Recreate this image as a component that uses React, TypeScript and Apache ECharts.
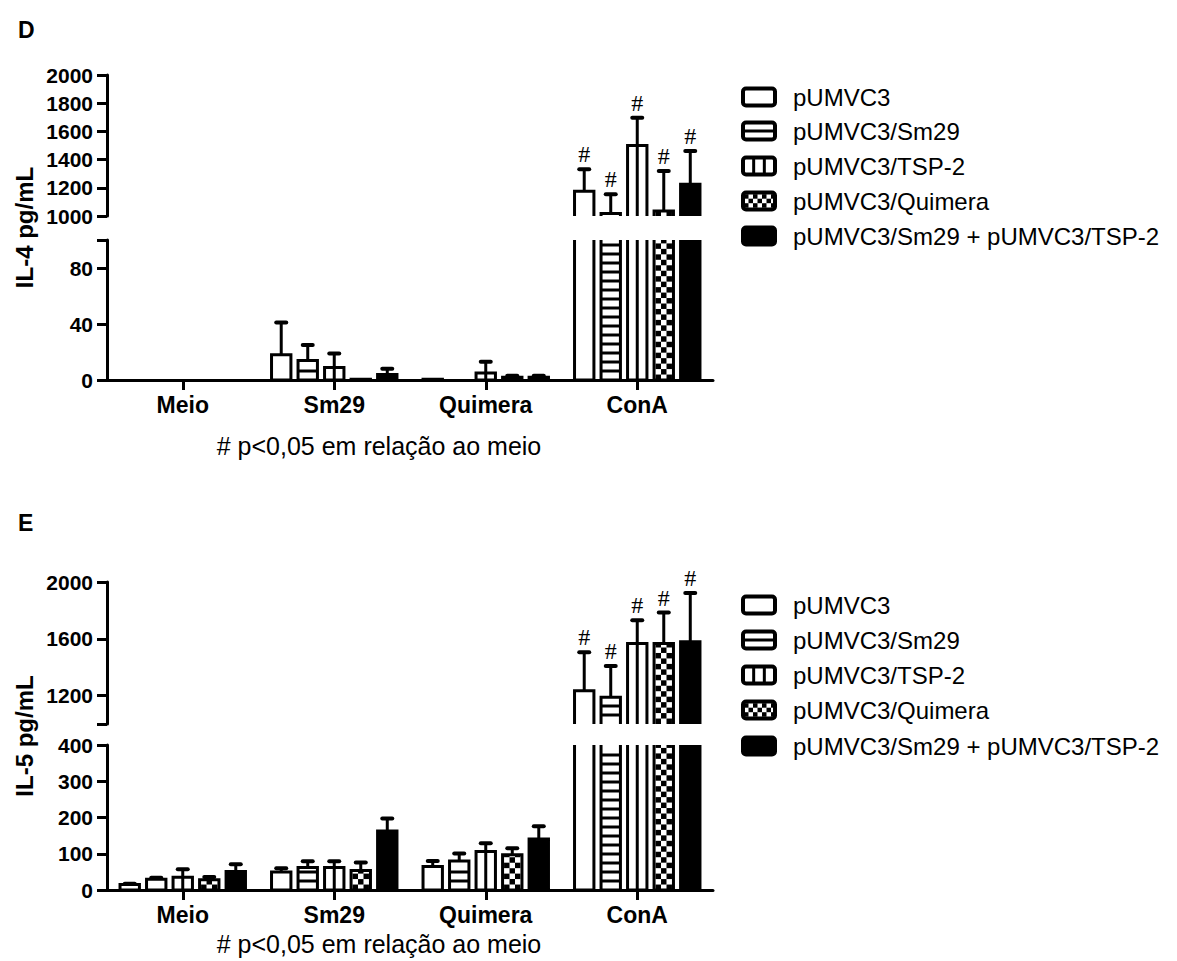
import React, { useEffect, useRef } from "react";
import * as echarts from "echarts";

const CATEGORIES = ["Meio", "Sm29", "Quimera", "ConA"];
const GROUPS = [
  "pUMVC3",
  "pUMVC3/Sm29",
  "pUMVC3/TSP-2",
  "pUMVC3/Quimera",
  "pUMVC3/Sm29 + pUMVC3/TSP-2",
];
const PATTERNS = ["open", "hstripe", "vstripe", "checker", "solid"];

// Panel D – IL-4 (pg/mL), per group, per category
const IL4_PUMVC3 = [0, 18, 0.5, 1175];
const IL4_SM29 = [0, 14, 0, 1018];
const IL4_TSP2 = [0, 9, 5, 1500];
const IL4_QUIMERA = [0, 0.5, 2, 1035];
const IL4_COMBO = [0, 4, 2, 1225];
const IL4_ERR_PUMVC3 = [0, 23, 0, 157];
const IL4_ERR_SM29 = [0, 11, 0, 136];
const IL4_ERR_TSP2 = [0, 10, 8, 196];
const IL4_ERR_QUIMERA = [0, 0, 1, 285];
const IL4_ERR_COMBO = [0, 4, 1, 236];
const IL4_SIG = [0, 0, 0, 1];

// Panel E – IL-5 (pg/mL)
const IL5_PUMVC3 = [15, 50, 65, 1235];
const IL5_SM29 = [30, 62, 80, 1188];
const IL5_TSP2 = [35, 62, 106, 1567];
const IL5_QUIMERA = [28, 54, 97, 1567];
const IL5_COMBO = [51, 163, 141, 1579];
const IL5_ERR_PUMVC3 = [2, 10, 15, 270];
const IL5_ERR_SM29 = [4, 17, 21, 220];
const IL5_ERR_TSP2 = [22, 17, 23, 164];
const IL5_ERR_QUIMERA = [8, 22, 18, 218];
const IL5_ERR_COMBO = [20, 34, 35, 344];
const IL5_SIG = [0, 0, 0, 1];

const IL4_UPPER_TICKS = [1000, 1200, 1400, 1600, 1800, 2000];
const IL4_LOWER_TICKS = [0, 40, 80, 100];
const IL4_LOWER_LABELS = [0, 40, 80];
const IL5_UPPER_TICKS = [1000, 1200, 1600, 2000];
const IL5_UPPER_LABELS = [1200, 1600, 2000];
const IL5_LOWER_TICKS = [0, 100, 200, 300, 400];

const FONT = "'Liberation Sans', Arial, sans-serif";
const LW = 3;

function barShapes(kind: string, x: number, y: number, w: number, h: number, openTop: boolean, openBottom: boolean) {
  const out: any[] = [];
  const bottom = y + h;
  out.push({
    type: "rect",
    shape: { x, y, width: w, height: h },
    style: { fill: kind === "solid" ? "#000" : "#fff" },
  });
  if (kind === "hstripe") {
    for (let yy = bottom - 9; yy > y + 3; yy -= 9) {
      out.push({ type: "line", shape: { x1: x, y1: yy, x2: x + w, y2: yy }, style: { stroke: "#000", lineWidth: LW } });
    }
  } else if (kind === "vstripe") {
    if (h > 0) out.push({ type: "line", shape: { x1: x + w / 2, y1: y, x2: x + w / 2, y2: bottom }, style: { stroke: "#000", lineWidth: LW } });
  } else if (kind === "checker") {
    const ix0 = x + 1.5;
    const ix1 = x + w - 1.5;
    const cell = (ix1 - ix0) / 3;
    const rows = Math.ceil(h / cell);
    for (let r = 0; r < rows; r++) {
      const yb = bottom - r * cell;
      const yt = Math.max(y, yb - cell);
      if (yb - yt <= 0) continue;
      for (let c = 0; c < 3; c++) {
        if ((r + c) % 2 !== 0) continue;
        const xl = ix0 + c * cell;
        out.push({ type: "rect", shape: { x: xl, y: yt, width: cell, height: yb - yt }, style: { fill: "#000" } });
      }
    }
  }
  const st = { stroke: "#000", lineWidth: LW, fill: "none", lineJoin: "miter" };
  let pts: number[][];
  if (openTop && openBottom) {
    out.push({ type: "line", shape: { x1: x, y1: y, x2: x, y2: bottom }, style: st });
    out.push({ type: "line", shape: { x1: x + w, y1: y, x2: x + w, y2: bottom }, style: st });
    return out;
  } else if (openBottom) {
    pts = [[x, bottom], [x, y], [x + w, y], [x + w, bottom]];
  } else if (openTop) {
    pts = [[x, y], [x, bottom], [x + w, bottom], [x + w, y]];
  } else {
    pts = [[x, bottom], [x, y], [x + w, y], [x + w, bottom], [x, bottom]];
  }
  out.push({ type: "polyline", shape: { points: pts }, style: st });
  return out;
}

function makeRenderItem(k: number, lo: number, hi: number) {
  return (params: any, api: any) => {
    const ci = api.value(0);
    const v = api.value(1);
    const e = api.value(2);
    const s = api.value(3);
    const band = api.size([1, 0])[0];
    const base = api.coord([ci, lo]);
    const cx = base[0] + (k - 2) * band * 0.175;
    const w = band * 0.128;
    const x = cx - w / 2;
    const yLo = base[1];
    const yHi = api.coord([ci, hi])[1];
    if (v <= 0 || v < lo || (lo > 0 && v <= lo)) return { type: "group", children: [] };
    const openTop = v > hi;
    const openBottom = lo > 0;
    const yTop = openTop ? yHi : api.coord([ci, v])[1];
    const children: any[] = barShapes(PATTERNS[k], x, yTop, w, yLo - yTop, openTop, openBottom);
    if (!openTop) {
      const yE = api.coord([ci, v + e])[1];
      if (e > 0) {
        children.push({ type: "line", shape: { x1: cx, y1: yTop, x2: cx, y2: yE }, style: { stroke: "#000", lineWidth: LW } });
        children.push({ type: "line", shape: { x1: cx - 5, y1: yE, x2: cx + 5, y2: yE }, style: { stroke: "#000", lineWidth: 4, lineCap: "round" } });
      }
      if (s) {
        children.push({
          type: "text",
          style: {
            text: "#", x: cx, y: yE - 3, fill: "#000",
            font: "24px 'Liberation Serif', 'Times New Roman', serif",
            align: "center", verticalAlign: "bottom", textAlign: "center", textVerticalAlign: "bottom",
          },
        });
      }
    }
    return { type: "group", children };
  };
}

function legendIcon(k: number, x: number, cy: number) {
  const w = 32, h = 17;
  const y = cy - h / 2;
  const out: any[] = [];
  const kind = PATTERNS[k];
  out.push({ type: "rect", shape: { x, y, width: w, height: h, r: 3 }, style: { fill: kind === "solid" ? "#000" : "#fff", stroke: "#000", lineWidth: 4 } });
  if (kind === "hstripe") {
    out.push({ type: "line", shape: { x1: x, y1: cy, x2: x + w, y2: cy }, style: { stroke: "#000", lineWidth: 3 } });
  } else if (kind === "vstripe") {
    out.push({ type: "line", shape: { x1: x + w / 3, y1: y, x2: x + w / 3, y2: y + h }, style: { stroke: "#000", lineWidth: 3 } });
    out.push({ type: "line", shape: { x1: x + (2 * w) / 3, y1: y, x2: x + (2 * w) / 3, y2: y + h }, style: { stroke: "#000", lineWidth: 3 } });
  } else if (kind === "checker") {
    const cell = 4.5;
    for (let r = 0; r < 3; r++) {
      for (let c = 0; c < 7; c++) {
        if ((r + c) % 2 !== 0) continue;
        out.push({ type: "rect", shape: { x: x + 1 + c * cell, y: y + 1.7 + r * cell, width: Math.min(cell, x + w - 1 - (x + 1 + c * cell)), height: cell }, style: { fill: "#000" } });
      }
    }
  }
  return out;
}

const PANELS = [
  {
    letter: "D", letterY: 30, yName: "IL-4 pg/mL",
    means: [IL4_PUMVC3, IL4_SM29, IL4_TSP2, IL4_QUIMERA, IL4_COMBO],
    errs: [IL4_ERR_PUMVC3, IL4_ERR_SM29, IL4_ERR_TSP2, IL4_ERR_QUIMERA, IL4_ERR_COMBO],
    sig: IL4_SIG,
    upper: { top: 75, height: 141, min: 1000, max: 2000, ticks: IL4_UPPER_TICKS, labels: IL4_UPPER_TICKS },
    lower: { top: 240, height: 140, min: 0, max: 100, ticks: IL4_LOWER_TICKS, labels: IL4_LOWER_LABELS },
    legendRows: [97, 131, 166, 201, 236],
    caption: 446,
  },
  {
    letter: "E", letterY: 523, yName: "IL-5 pg/mL",
    means: [IL5_PUMVC3, IL5_SM29, IL5_TSP2, IL5_QUIMERA, IL5_COMBO],
    errs: [IL5_ERR_PUMVC3, IL5_ERR_SM29, IL5_ERR_TSP2, IL5_ERR_QUIMERA, IL5_ERR_COMBO],
    sig: IL5_SIG,
    upper: { top: 582, height: 142, min: 1000, max: 2000, ticks: IL5_UPPER_TICKS, labels: IL5_UPPER_LABELS },
    lower: { top: 745, height: 145, min: 0, max: 400, ticks: IL5_LOWER_TICKS, labels: IL5_LOWER_TICKS },
    legendRows: [605, 640, 675, 710, 746],
    caption: 944,
  },
];

function buildOption() {
  const grid: any[] = [];
  const xAxis: any[] = [];
  const yAxis: any[] = [];
  const series: any[] = [];
  const graphic: any[] = [];
  PANELS.forEach((p) => {
    [p.upper, p.lower].forEach((seg, si) => {
      const g = grid.length;
      const isLower = si === 1;
      grid.push({ left: 107, width: 606, top: seg.top, height: seg.height, containLabel: false });
      xAxis.push({
        gridIndex: g, type: "category", data: CATEGORIES, show: isLower, boundaryGap: true,
        axisLine: { show: true, lineStyle: { color: "#000", width: 3 } },
        axisTick: { show: true, alignWithLabel: true, length: 10, lineStyle: { color: "#000", width: 3 } },
        axisLabel: { show: true, margin: 13, color: "#000", fontSize: 23, fontWeight: "bold", fontFamily: FONT },
        splitLine: { show: false },
      });
      yAxis.push({
        gridIndex: g, type: "value", min: seg.min, max: seg.max,
        splitLine: { show: false },
        axisLine: { show: true, lineStyle: { color: "#000", width: 3 } },
        axisTick: { show: true, customValues: seg.ticks, length: 10, lineStyle: { color: "#000", width: 3 } },
        axisLabel: {
          show: true, customValues: seg.labels, margin: 14, color: "#000", fontSize: 21, fontWeight: "bold", fontFamily: FONT,
          formatter: (val: number) => String(val),
        },
      });
      for (let k = 0; k < 5; k++) {
        series.push({
          type: "custom", name: GROUPS[k], coordinateSystem: "cartesian2d",
          xAxisIndex: g, yAxisIndex: g, silent: true, clip: false,
          encode: { x: 0, y: 1 },
          data: CATEGORIES.map((_, i) => [i, p.means[k][i], p.errs[k][i], p.sig[i]]),
          renderItem: makeRenderItem(k, seg.min, seg.max),
        });
      }
    });
    graphic.push({ type: "text", x: 18, y: p.letterY, style: { text: p.letter, font: `bold 23px ${FONT}`, fill: "#000", align: "left", verticalAlign: "middle", textAlign: "left", textVerticalAlign: "middle" } });
    const axisMid = (p.upper.top + p.lower.top + p.lower.height) / 2;
    graphic.push({ type: "text", x: 24, y: axisMid, rotation: Math.PI / 2, style: { text: p.yName, font: `bold 24px ${FONT}`, fill: "#000", align: "center", verticalAlign: "middle", textAlign: "center", textVerticalAlign: "middle" } });
    graphic.push({ type: "text", x: 379, y: p.caption, style: { text: "# p<0,05 em relação ao meio", font: `25px ${FONT}`, fill: "#000", align: "center", verticalAlign: "middle", textAlign: "center", textVerticalAlign: "middle" } });
    p.legendRows.forEach((cy, k) => {
      legendIcon(k, 743, cy).forEach((el) => graphic.push(el));
      graphic.push({ type: "text", x: 793, y: cy, style: { text: GROUPS[k], font: `24px ${FONT}`, fill: "#000", align: "left", verticalAlign: "middle", textAlign: "left", textVerticalAlign: "middle" } });
    });
  });
  return { animation: false, backgroundColor: "#fff", grid, xAxis, yAxis, series, graphic };
}

export default function App() {
  const ref = useRef<HTMLDivElement>(null);
  useEffect(() => {
    if (!ref.current) return;
    const chart = echarts.init(ref.current, undefined, { renderer: "svg" });
    chart.setOption(buildOption() as any);
    return () => chart.dispose();
  }, []);
  return <div ref={ref} style={{ position: "absolute", left: 0, top: 0, width: 1177, height: 961 }} />;
}
